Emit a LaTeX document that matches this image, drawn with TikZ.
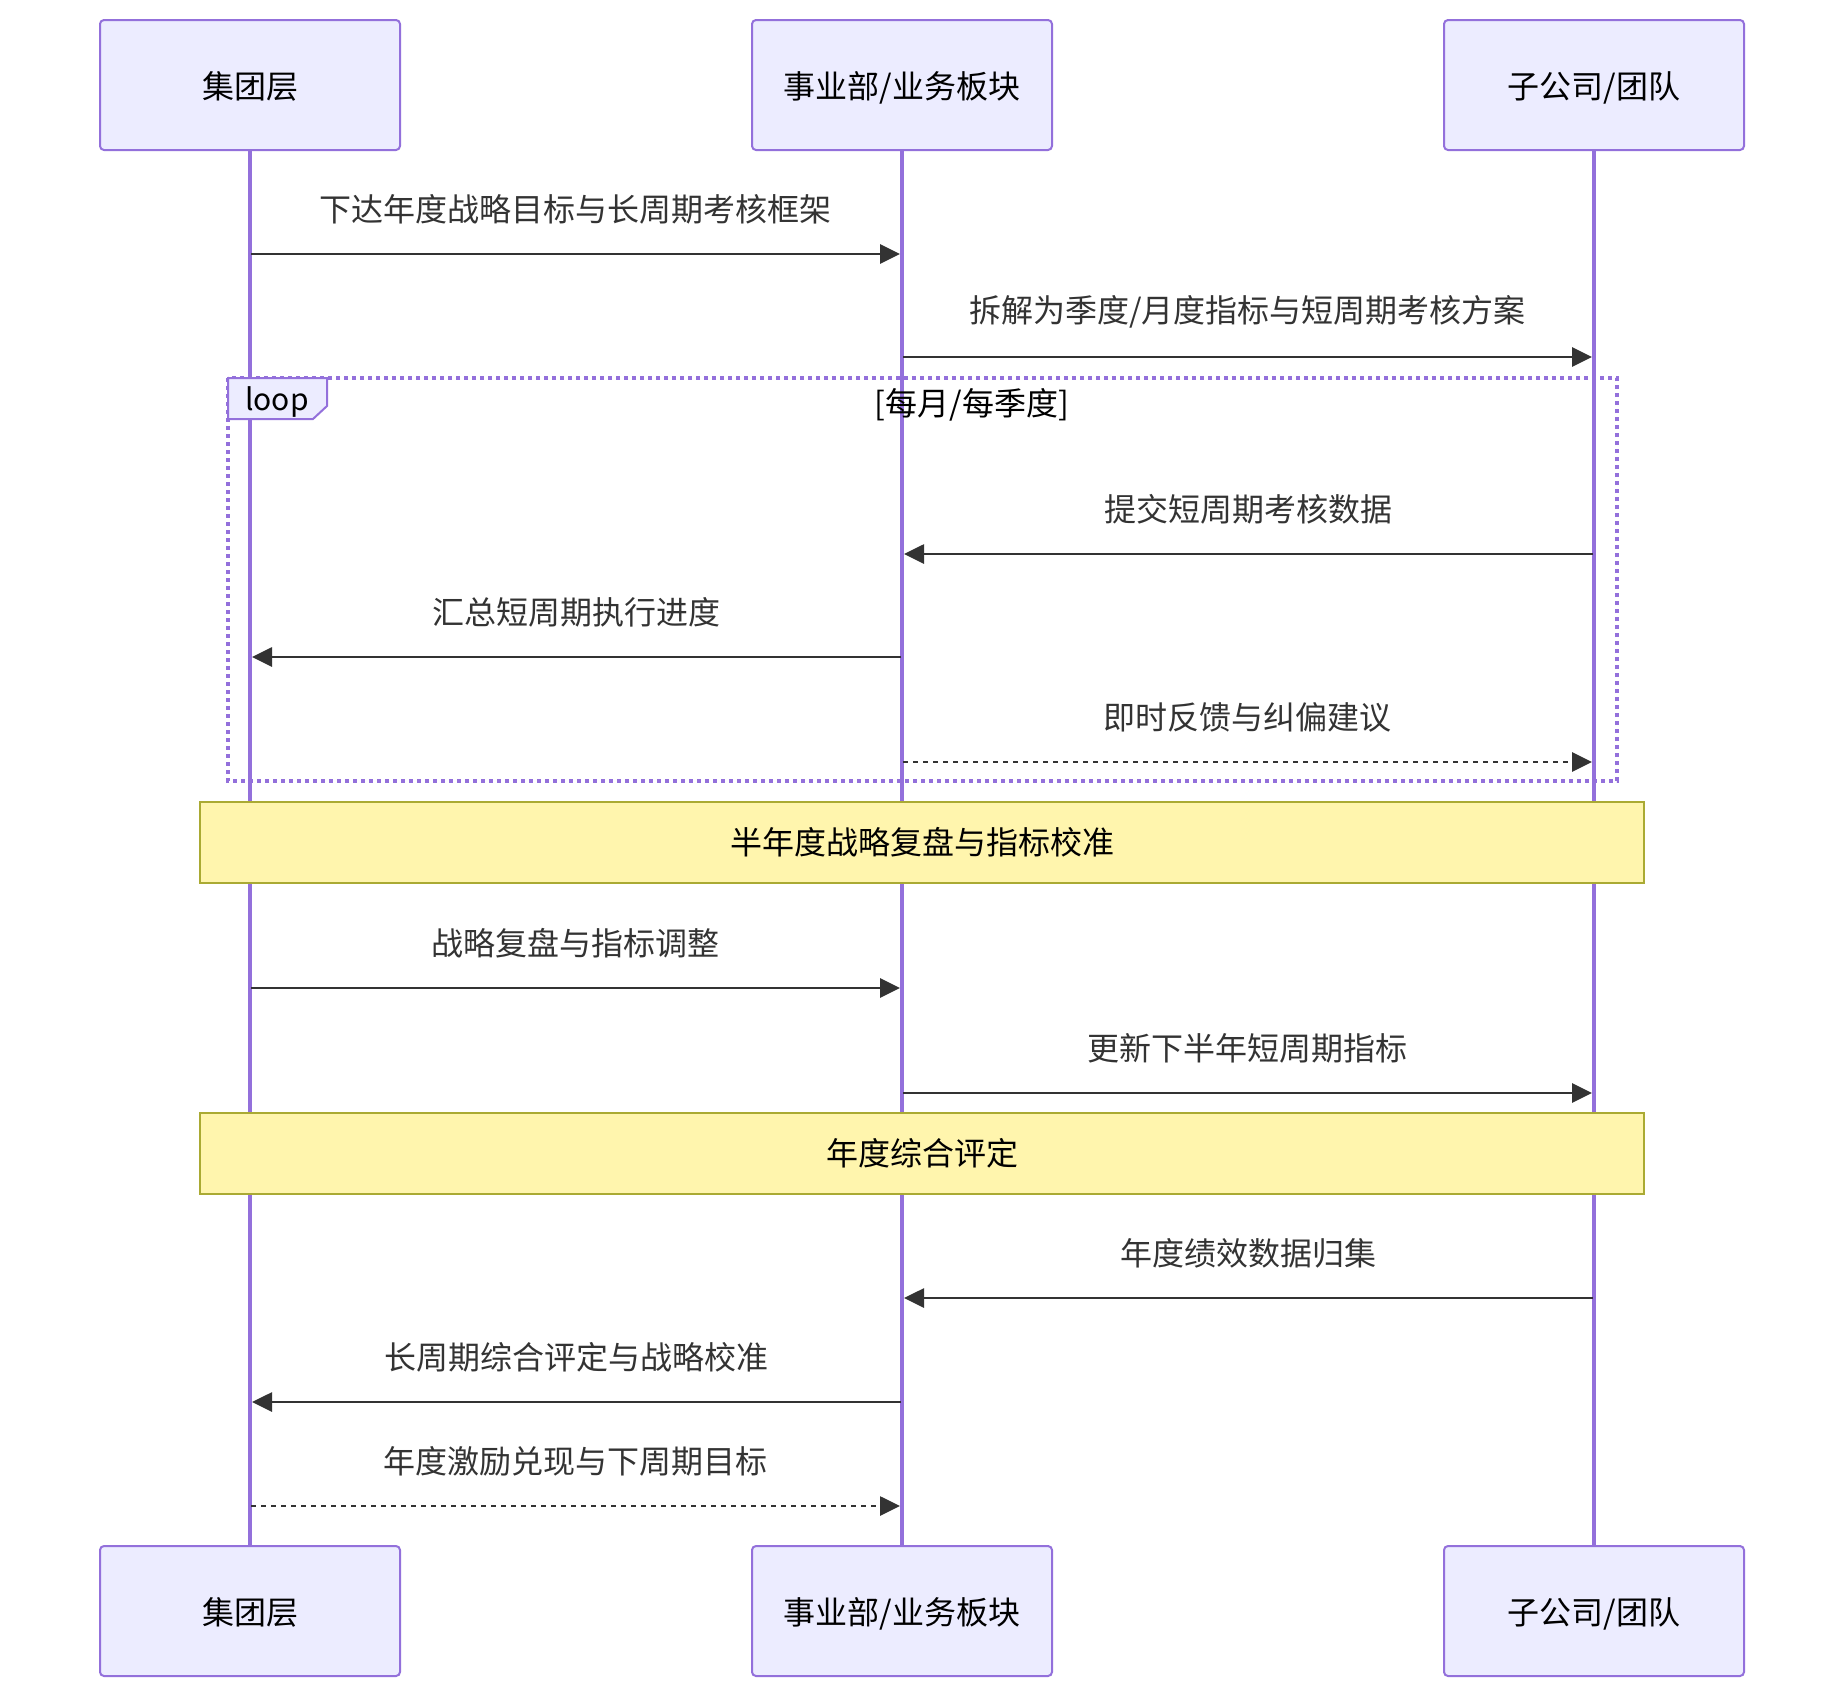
\documentclass[tikz,border=0pt]{standalone}
\usepackage{fontspec}
\setmainfont{Noto Sans CJK SC}
\usetikzlibrary{arrows.meta}
\definecolor{actfill}{HTML}{ECECFF}
\definecolor{actline}{HTML}{9370DB}
\definecolor{notefill}{HTML}{FFF5AD}
\definecolor{noteline}{HTML}{AAAA33}
\definecolor{msgcol}{HTML}{333333}
\tikzset{
  actor/.style={draw=actline, fill=actfill, line width=2pt, rounded corners=4pt,
    minimum width=300pt, minimum height=130pt, inner sep=0pt, font=\fontsize{32}{38}\selectfont, text=black},
  lifeline/.style={draw=actline, line width=3.4pt},
  msg/.style={draw=msgcol, line width=2.8pt, -{Triangle[length=20pt,width=19pt]}, color=msgcol},
  msgdot/.style={msg, dash pattern=on 5pt off 5pt},
  msglabel/.style={font=\fontsize{32}{38}\selectfont, text=msgcol, inner sep=0pt},
  notebox/.style={draw=noteline, fill=notefill, line width=2pt, inner sep=0pt, font=\fontsize{32}{38}\selectfont, text=black},
  loopbox/.style={draw=actline, line width=3.5pt, dash pattern=on 4pt off 4pt},
}
\newcommand{\mymsg}[6]{% name, y, x1, x2, label, style
  \coordinate (#1s) at (#3,#2);
  \coordinate (#1e) at (#4,#2);
  \draw[#6] (#1s) -- (#1e);
  \node[msglabel] (#1l) at ({(#3+#4)/2},{#2-45}) {#5};
}
\begin{document}
\begin{tikzpicture}[x=1pt,y=-1pt]
\useasboundingbox (0,0) rectangle (1844,1698);
% actors
\node[actor, text depth=-3pt] (At) at (250,85) {集团层};
\node[actor, text depth=-3pt] (Bt) at (902,85) {事业部/业务板块};
\node[actor, text depth=-3pt] (Ct) at (1594,85) {子公司/团队};
\node[actor, text depth=-3pt] (Ab) at (250,1611) {集团层};
\node[actor, text depth=-3pt] (Bb) at (902,1611) {事业部/业务板块};
\node[actor, text depth=-3pt] (Cb) at (1594,1611) {子公司/团队};
% lifelines
\draw[lifeline] (At.south) -- (Ab.north);
\draw[lifeline] (Bt.south) -- (Bb.north);
\draw[lifeline] (Ct.south) -- (Cb.north);
% messages before loop
\mymsg{m1}{254}{251}{900}{下达年度战略目标与长周期考核框架}{msg}
\mymsg{m2}{357}{903}{1592}{拆解为季度/月度指标与短周期考核方案}{msg}
% loop
\draw[loopbox] (228,378) rectangle (1617,781);
\draw[draw=actline, fill=actfill, line width=2pt] (228,378) -- (327,378) -- (327,406) -- (313,419) -- (228,419) -- cycle;
\node[font=\fontsize{30}{36}\selectfont, inner sep=0pt] (looplbl) at (277,402) {loop};
\node[font=\fontsize{32}{38}\selectfont, inner sep=0pt] (loopcond) at (972,405) {[每月/每季度]};
\mymsg{m3}{554}{1593}{904}{提交短周期考核数据}{msg}
\mymsg{m4}{657}{901}{252}{汇总短周期执行进度}{msg}
\mymsg{m5}{762}{903}{1592}{即时反馈与纠偏建议}{msgdot}
% note 1
\node[notebox, minimum width=1444pt, minimum height=81pt] (n1) at (922,842.5) {半年度战略复盘与指标校准};
\mymsg{m6}{988}{251}{900}{战略复盘与指标调整}{msg}
\mymsg{m7}{1093}{903}{1592}{更新下半年短周期指标}{msg}
% note 2
\node[notebox, minimum width=1444pt, minimum height=81pt] (n2) at (922,1153.5) {年度综合评定};
\mymsg{m8}{1298}{1593}{904}{年度绩效数据归集}{msg}
\mymsg{m9}{1402}{901}{252}{长周期综合评定与战略校准}{msg}
\mymsg{m10}{1506}{251}{900}{年度激励兑现与下周期目标}{msgdot}
\end{tikzpicture}
\end{document}
